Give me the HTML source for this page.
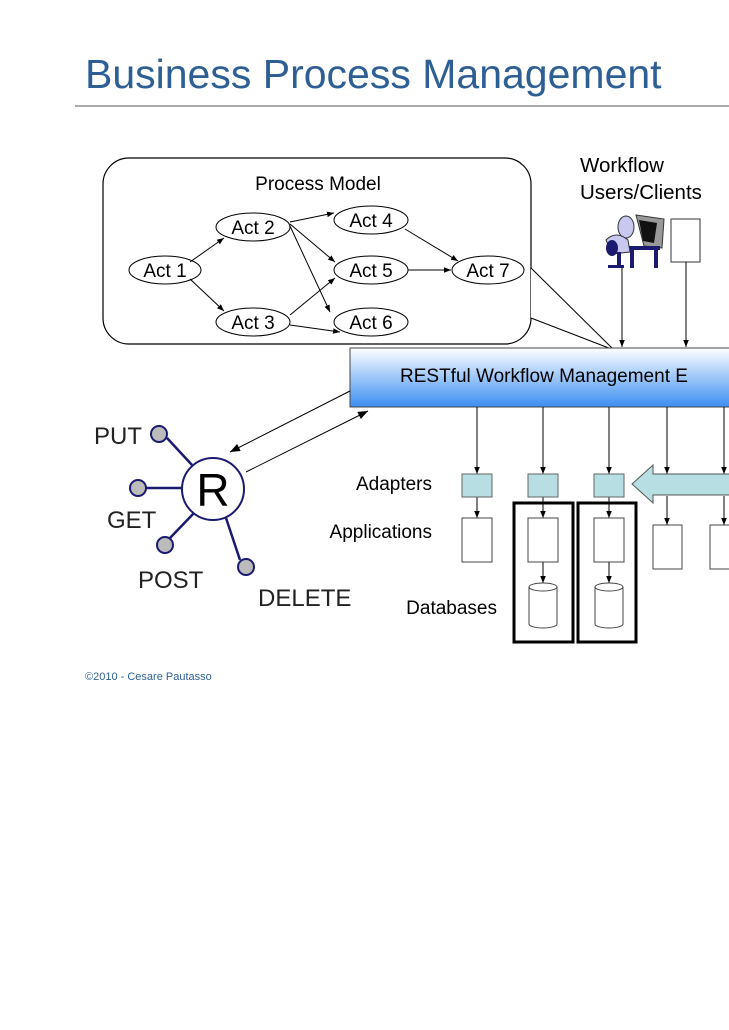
<!DOCTYPE html>
<html><head><meta charset="utf-8"><style>
html,body{margin:0;padding:0;background:#fff;}
svg{display:block;font-family:"Liberation Sans",sans-serif;}
</style></head><body>
<svg width="729" height="1030" viewBox="0 0 729 1030" xmlns="http://www.w3.org/2000/svg">
<defs>
<marker id="a" viewBox="0 0 10 10" refX="10" refY="5" markerWidth="7" markerHeight="7" orient="auto-start-reverse"><path d="M0,1 L10,5 L0,9 z" fill="#000"/></marker>
<marker id="b" viewBox="0 0 10 10" refX="10" refY="5" markerWidth="10" markerHeight="10" orient="auto"><path d="M0,1 L10,5 L0,9 z" fill="#000"/></marker>
<linearGradient id="g" x1="0" y1="0" x2="0" y2="1"><stop offset="0" stop-color="#ffffff"/><stop offset="1" stop-color="#3b8ef2"/></linearGradient>
</defs>
<text x="85" y="88" font-size="41" fill="#2e5f94">Business Process Management</text>
<line x1="75" y1="106" x2="729" y2="106" stroke="#555" stroke-width="1"/>

<rect x="103" y="158" width="428" height="186" rx="26" fill="#fff" stroke="#000" stroke-width="1.2"/>
<polygon points="531,268 614,350 531,318" fill="#fff"/>
<polyline points="531,268 614,350 531,318" fill="none" stroke="#000" stroke-width="1"/>
<text x="318" y="190" font-size="19" text-anchor="middle">Process Model</text>

<g fill="#fff" stroke="#000" stroke-width="1">
<ellipse cx="165" cy="270" rx="36" ry="14"/>
<ellipse cx="253" cy="227" rx="37" ry="14"/>
<ellipse cx="253" cy="322" rx="37" ry="14"/>
<ellipse cx="371" cy="220" rx="37" ry="14"/>
<ellipse cx="371" cy="270" rx="37" ry="14"/>
<ellipse cx="371" cy="322" rx="37" ry="14"/>
<ellipse cx="488" cy="270" rx="36" ry="14"/>
</g>
<g font-size="19" text-anchor="middle">
<text x="165" y="277">Act 1</text><text x="253" y="234">Act 2</text><text x="253" y="329">Act 3</text>
<text x="371" y="227">Act 4</text><text x="371" y="277">Act 5</text><text x="371" y="329">Act 6</text>
<text x="488" y="277">Act 7</text>
</g>
<g stroke="#000" stroke-width="1" marker-end="url(#a)">
<line x1="190" y1="262" x2="224" y2="238"/>
<line x1="190" y1="279" x2="224" y2="311"/>
<line x1="290" y1="222" x2="334" y2="213"/>
<line x1="290" y1="224" x2="335" y2="262"/>
<line x1="290" y1="226" x2="330" y2="312"/>
<line x1="290" y1="315" x2="335" y2="278"/>
<line x1="290" y1="325" x2="340" y2="332"/>
<line x1="405" y1="229" x2="458" y2="261"/>
<line x1="408" y1="270" x2="451" y2="270"/>
</g>

<text x="580" y="172" font-size="20.5">Workflow</text>
<text x="580" y="199" font-size="20.5">Users/Clients</text>
<g>
<polygon points="636,215 664,219 662,248 644,246" fill="#999" stroke="#333"/>
<polygon points="639,220 657,223 654,243 643,241" fill="#111"/>
<rect x="628" y="246" width="32" height="4" fill="#1a1a70"/>
<rect x="630" y="250" width="4" height="18" fill="#1a1a70"/>
<rect x="654" y="250" width="4" height="18" fill="#1a1a70"/>
<ellipse cx="626" cy="227" rx="8" ry="11" fill="#c8c8f0" stroke="#333"/>
<path d="M606,240 Q616,230 628,240 L630,252 L612,254 Z" fill="#c8c8f0" stroke="#333"/>
<ellipse cx="612" cy="248" rx="6" ry="8" fill="#1a1a70"/>
<rect x="617" y="252" width="4" height="16" fill="#1a1a70"/>
<rect x="608" y="265" width="16" height="3" fill="#1a1a70"/>
</g>
<rect x="671" y="219" width="29" height="43" fill="#fff" stroke="#333"/>
<g stroke="#000" stroke-width="1" marker-end="url(#a)">
<line x1="622" y1="268" x2="622" y2="347"/>
<line x1="686" y1="262" x2="686" y2="347"/>
</g>

<rect x="350" y="348" width="390" height="59" fill="url(#g)" stroke="#444" stroke-width="1"/>
<text x="400" y="382" font-size="19">RESTful Workflow Management E</text>

<g stroke="#1a1a70" stroke-width="2.5">
<line x1="167" y1="438" x2="192" y2="465"/>
<line x1="146" y1="488" x2="182" y2="488"/>
<line x1="170" y1="538" x2="194" y2="513"/>
<line x1="240" y1="560" x2="226" y2="518"/>
</g>
<circle cx="213" cy="489" r="31" fill="#fff" stroke="#1a1a70" stroke-width="2"/>
<text x="213" y="506" font-size="46" text-anchor="middle">R</text>
<g fill="#bbb" stroke="#1a1a70" stroke-width="2">
<circle cx="159" cy="434" r="8"/>
<circle cx="138" cy="488" r="8"/>
<circle cx="165" cy="545" r="8"/>
<circle cx="246" cy="567" r="8"/>
</g>
<g font-size="24" fill="#222">
<text x="94" y="444">PUT</text>
<text x="107" y="528">GET</text>
<text x="138" y="588">POST</text>
<text x="258" y="606">DELETE</text>
</g>
<line x1="350" y1="391" x2="230" y2="452" stroke="#000" stroke-width="1" marker-end="url(#b)"/>
<line x1="246" y1="472" x2="368" y2="411" stroke="#000" stroke-width="1" marker-end="url(#b)"/>

<g font-size="19" text-anchor="end">
<text x="432" y="490">Adapters</text>
<text x="432" y="538">Applications</text>
<text x="497" y="614">Databases</text>
</g>

<g stroke="#000" stroke-width="1" marker-end="url(#a)">
<line x1="477" y1="407" x2="477" y2="474"/>
<line x1="543" y1="407" x2="543" y2="474"/>
<line x1="609" y1="407" x2="609" y2="474"/>
<line x1="667" y1="407" x2="667" y2="474"/>
<line x1="724" y1="407" x2="724" y2="474"/>
<line x1="477" y1="497" x2="477" y2="518"/>
<line x1="543" y1="497" x2="543" y2="518"/>
<line x1="609" y1="497" x2="609" y2="518"/>
<line x1="667" y1="496" x2="667" y2="525"/>
<line x1="724" y1="496" x2="724" y2="525"/>
<line x1="543" y1="562" x2="543" y2="583"/>
<line x1="609" y1="562" x2="609" y2="583"/>
</g>
<g fill="#b7dfe3" stroke="#666">
<rect x="462" y="474" width="30" height="23"/>
<rect x="528" y="474" width="30" height="23"/>
<rect x="594" y="474" width="30" height="23"/>
</g>
<polygon points="632,484 653,465 653,474 740,474 740,495 653,495 653,503" fill="#b7dfe3" stroke="#555"/>
<g fill="#fff" stroke="#444">
<rect x="462" y="518" width="30" height="44"/>
<rect x="528" y="518" width="30" height="44"/>
<rect x="594" y="518" width="30" height="44"/>
<rect x="653" y="525" width="29" height="44"/>
<rect x="710" y="525" width="29" height="44"/>
</g>
<g fill="#fff" stroke="#444">
<path d="M529,587 v37 a14,4 0 0 0 28,0 v-37"/><ellipse cx="543" cy="587" rx="14" ry="4"/>
<path d="M595,587 v37 a14,4 0 0 0 28,0 v-37"/><ellipse cx="609" cy="587" rx="14" ry="4"/>
</g>
<g fill="none" stroke="#000" stroke-width="3">
<rect x="514" y="503" width="59" height="139"/>
<rect x="578" y="503" width="58" height="139"/>
</g>

<text x="85" y="680" font-size="11" fill="#2e5f94">©2010 - Cesare Pautasso</text>
</svg>
</body></html>
